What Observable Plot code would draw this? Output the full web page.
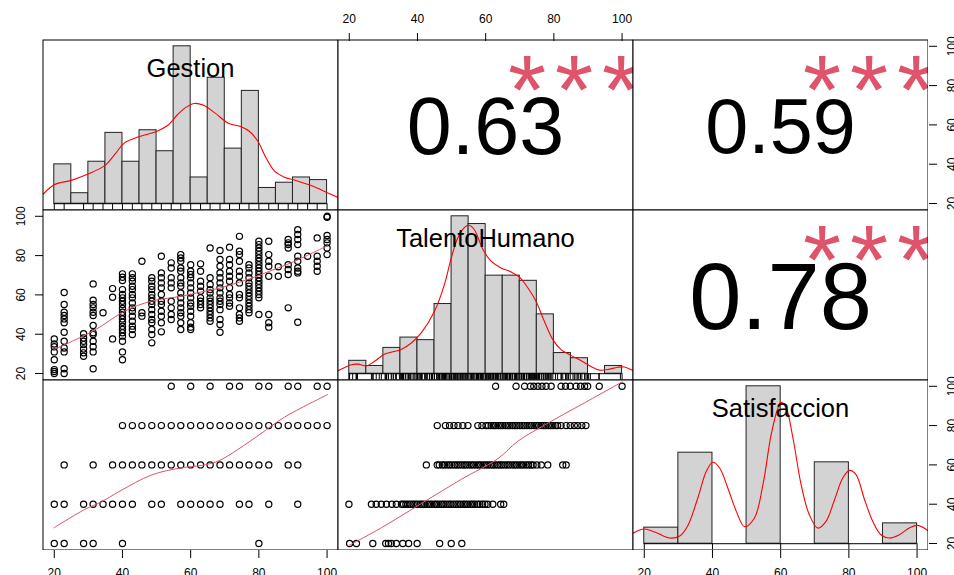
<!DOCTYPE html>
<html>
<head>
<meta charset="utf-8">
<script src="https://cdn.jsdelivr.net/npm/d3@7"></script>
<script src="https://cdn.jsdelivr.net/npm/@observablehq/plot@0.6"></script>
<style>
  body { margin: 0; background: #fff; }
  #chart { position: relative; width: 954px; height: 575px; overflow: hidden; background: #fff; }
  #chart svg { position: absolute; }
</style>
</head>
<body>
<div id="chart"></div>
<script>
// ---------------------------------------------------------------
// Correlation matrix of three survey scores (each scaled 20–100)
// ---------------------------------------------------------------
const varNames = ["Gestion", "TalentoHumano", "Satisfaccion"];
const tickValues = [20, 40, 60, 80, 100];

// upper triangle: Pearson r and significance stars
const corrCells = [[0, 1], [0, 2], [1, 2]];
const corrValues = [0.63, 0.59, 0.78];
const corrSignif = ["***", "***", "***"];

// histograms (counts per bin)
const gestionBreaks = [20, 25, 30, 35, 40, 45, 50, 55, 60, 65, 70, 75, 80, 85, 90, 95, 100];
const gestionCounts = [15, 4, 16, 27, 16, 28, 20, 60, 10, 48, 21, 43, 6, 8, 10, 9];
const talentoBreaks = [20, 25, 30, 35, 40, 45, 50, 55, 60, 65, 70, 75, 80, 85, 90, 95, 100];
const talentoCounts = [5, 3, 10, 14, 13, 27, 61, 58, 38, 38, 36, 23, 8, 6, 0, 3];
const satisfBreaks = [20, 30, 40, 50, 60, 70, 80, 90, 100];
const satisfCounts = [15, 85, 0, 147, 0, 76, 0, 19];

// kernel density curves, in the same units as the bin counts
const gestionDensity = [[16.8,3.7],[20.1,7.3],[25.0,8.9],[29.9,11.3],[34.8,14.5],[37.7,18.7],[40.6,23.2],[44.5,25.4],[50.1,27.6],[53.3,29.9],[56.2,34.0],[58.7,36.8],[61.1,38.2],[63.6,37.6],[67.0,34.7],[70.9,30.8],[74.8,29.3],[77.2,27.6],[79.7,23.8],[82.1,17.5],[84.6,12.4],[87.5,10.1],[90.4,9.0],[95.3,6.9],[100.2,4.1],[103.2,2.4]];
const talentoDensity = [[16.8,1.2],[20.6,3.5],[22.6,3.7],[25.0,3.0],[27.4,4.8],[30.4,7.6],[35.1,9.3],[38.2,11.9],[41.1,15.8],[45.0,24.2],[47.9,34.5],[49.9,44.8],[51.8,52.6],[53.8,56.7],[55.1,57.5],[56.7,55.8],[59.2,48.1],[61.6,43.6],[64.5,41.0],[67.5,39.4],[69.9,37.4],[72.4,33.2],[74.8,28.0],[77.2,20.3],[79.7,13.2],[82.1,9.3],[85.0,7.1],[88.0,5.0],[90.9,2.8],[93.3,1.4],[95.8,1.6],[98.7,2.5],[100.7,2.6],[103.2,1.2]];
const satisfDensity = [[16.8,10.0],[20.0,13.7],[23.1,10.9],[27.4,5.3],[30.4,7.2],[32.8,17.1],[35.7,42.7],[38.2,67.6],[40.1,76.0],[42.1,70.7],[44.5,52.0],[47.0,30.2],[49.4,15.9],[52.3,24.0],[54.8,55.1],[57.2,101.8],[59.2,126.8],[60.1,132.0],[61.6,126.8],[63.6,98.7],[66.0,55.1],[68.4,27.1],[70.9,14.6],[73.3,20.9],[75.8,41.1],[78.2,61.4],[80.2,68.5],[82.1,64.5],[84.6,41.1],[87.0,20.9],[89.4,8.4],[91.9,5.3],[94.8,8.4],[97.7,14.6],[100.2,17.1],[103.2,12.1]];

// observed score levels of Gestion and Satisfaccion
const gestionLevels = [20, 22.9, 28.6, 31.4, 34.3, 37.1, 40, 42.9, 45.7, 48.6, 51.4, 54.3, 57.1, 60, 62.9, 65.7, 68.6, 71.4, 74.3, 77.1, 80, 82.9, 85.7, 88.6, 91.4, 94.3, 97.1, 100];
const satisfLevels = [20, 40, 60, 80, 100];

// TalentoHumano scores for each Gestion level
const talentoByGestion = [
  [37.6, 35.0, 33.6, 31.0, 27.0, 22.0, 21.0, 20.0],
  [61.2, 55.1, 51.2, 49.5, 47.8, 45.8, 41.0, 36.4, 33.0, 31.0, 22.4, 20.0],
  [40.2, 38.1, 36.4, 34.7, 32.5, 30.5, 28.8],
  [65.6, 57.3, 55.1, 53.4, 51.2, 49.5, 44.4, 40.7, 39.8, 36.4, 33.6, 31.0, 22.4],
  [50.9],
  [63.2, 58.8, 37.6],
  [70.7, 69.0, 67.3, 62.7, 60.2, 58.5, 56.8, 55.1, 53.1, 51.2, 49.5, 47.8, 46.1, 44.1, 42.4, 40.7, 39.0, 36.4, 31.0, 27.0],
  [70.7, 68.7, 67.0, 64.4, 62.7, 60.2, 58.5, 55.9, 53.4, 51.7, 49.2, 46.6, 44.1, 42.4, 39.8],
  [77.1, 50.9, 49.2],
  [68.7, 67.0, 64.4, 62.7, 60.2, 58.5, 56.8, 55.1, 52.5, 50.0, 47.5, 45.8, 42.4, 39.8, 35.6],
  [79.7, 71.2, 68.7, 66.1, 63.6, 60.2, 56.8, 55.1, 51.7, 49.2, 45.8, 41.2],
  [76.3, 73.7, 68.7, 66.1, 63.6, 56.8, 53.4, 50.0, 47.5],
  [80.5, 78.8, 77.1, 73.7, 72.0, 68.7, 66.1, 64.4, 61.0, 58.5, 55.9, 53.4, 50.9, 49.2, 45.8, 42.4],
  [75.4, 72.0, 70.4, 68.7, 66.1, 63.6, 61.0, 58.5, 55.9, 54.2, 51.7, 49.2, 45.8, 43.6, 42.4],
  [75.8, 72.0, 67.0, 64.4, 61.9, 58.5, 56.8, 55.1, 53.4],
  [83.9, 68.7, 65.3, 62.7, 61.0, 58.5, 56.8, 55.1, 53.4, 51.7, 50.0, 48.3, 46.6],
  [82.6, 78.0, 74.6, 71.2, 68.7, 66.1, 63.6, 61.0, 58.5, 56.8, 55.1, 52.5, 47.5, 44.9, 41.0],
  [84.3, 78.0, 75.4, 72.0, 69.5, 67.0, 63.6, 60.2, 58.5, 55.9, 54.2],
  [89.8, 82.2, 80.5, 77.1, 72.0, 69.5, 66.1, 60.2, 58.5, 53.4, 50.0, 48.3, 46.6],
  [75.4, 73.7, 71.2, 68.7, 66.1, 64.4, 62.7, 61.0, 59.3, 57.6, 55.9, 54.2, 52.5, 50.9],
  [87.3, 85.6, 83.9, 82.2, 80.5, 78.8, 77.1, 75.4, 73.7, 72.0, 70.4, 68.7, 67.0, 65.3, 63.6, 61.9, 60.2, 58.5, 50.0],
  [87.3, 80.5, 77.1, 74.6, 69.5, 50.0, 45.8, 43.6],
  [74.3, 69.5],
  [88.2, 86.5, 85.6, 83.9, 75.4, 72.9, 70.4, 53.4],
  [93.2, 90.7, 88.2, 85.6, 79.7, 77.1, 73.7, 72.0, 71.2, 46.1],
  [79.7],
  [89.0, 79.7, 77.1, 74.6, 72.0],
  [100.0, 99.5, 90.2, 88.2, 86.5, 83.9, 80.5]
];

// Gestion scores observed at each Satisfaccion level
const gestionBySatisf = [
  [20, 22.9, 28.6, 31.4, 40, 80],
  [20, 22.9, 28.6, 31.4, 34.3, 37.1, 40, 42.9, 48.6, 51.4, 57.1, 60, 62.9, 65.7, 68.6, 74.3, 77.1, 82.9, 91.4],
  [22.9, 31.4, 37.1, 40, 42.9, 45.7, 48.6, 51.4, 54.3, 57.1, 60, 62.9, 65.7, 68.6, 71.4, 74.3, 77.1, 80, 82.9, 88.6, 91.4],
  [40, 42.9, 45.7, 48.6, 51.4, 54.3, 57.1, 60, 62.9, 65.7, 68.6, 71.4, 74.3, 77.1, 80, 82.9, 85.7, 88.6, 91.4, 94.3, 97.1, 100],
  [54.3, 60, 65.7, 71.4, 74.3, 80, 82.9, 88.6, 91.4, 97.1, 100]
];

// TalentoHumano scores observed at each Satisfaccion level
const talentoBySatisf = [
  [20.1, 22.1, 26.9, 30.7, 31.5, 32.3, 33.8, 35.7, 37.4, 39.9, 46.5, 49.9, 53.0],
  [19.9, 26.5, 27.9, 29.4, 30.9, 32.5, 33.8, 35.3, 35.9, 36.6, 37.2, 37.9, 38.7, 39.3, 40.0, 40.8, 41.4, 42.1, 42.9, 43.5, 44.2, 45.0, 45.6, 46.3, 47.1, 47.7, 48.4, 49.2, 49.8, 50.5, 51.3, 51.9, 52.6, 53.4, 54.0, 54.7, 55.5, 56.1, 56.8, 57.6, 58.3, 59.1, 59.8, 60.6, 62.1, 64.4, 65.3],
  [42.6, 45.8, 46.4, 47.3, 47.9, 48.7, 49.4, 50.1, 50.9, 51.6, 52.2, 53.0, 53.7, 54.3, 55.1, 55.8, 56.4, 57.2, 57.9, 58.5, 59.3, 60.0, 60.6, 61.4, 62.1, 62.7, 63.5, 64.2, 64.8, 65.6, 66.3, 66.9, 67.7, 68.4, 69.0, 69.8, 70.5, 71.1, 71.9, 72.6, 73.3, 73.9, 75.0, 76.3, 78.2, 82.6, 83.6],
  [45.8, 48.2, 49.4, 50.7, 51.9, 53.3, 54.8, 57.7, 58.9, 60.1, 60.8, 61.6, 62.3, 62.9, 63.7, 64.4, 65.0, 65.8, 66.5, 67.1, 67.9, 68.6, 69.2, 70.0, 70.7, 71.3, 72.1, 72.8, 73.4, 74.2, 74.9, 75.5, 76.3, 77.0, 77.6, 78.4, 79.1, 79.7, 80.5, 81.1, 82.1, 83.6, 84.8, 86.0, 87.0, 88.2, 89.4],
  [62.9, 68.9, 71.4, 73.1, 74.1, 75.3, 76.5, 77.7, 79.2, 82.1, 83.4, 84.8, 86.5, 87.8, 89.0, 89.9, 93.3, 100]
];

// local regression (lowess) fits for the lower panels
const smoothGT = [[19.9,32.2],[31.8,42.0],[40.6,51.7],[48.4,56.8],[57.2,59.3],[63.1,61.5],[68.9,63.6],[74.3,66.5],[78.7,69.0],[82.6,71.7],[89.4,76.3],[100.2,85.1]];
const smoothGS = [[19.9,28.0],[28.9,37.3],[33.8,41.2],[39.6,47.0],[48.4,54.8],[57.2,58.5],[63.1,59.7],[68.0,61.9],[73.8,67.8],[80.6,75.9],[87.5,84.3],[100.2,95.8]];
const smoothTS = [[20.1,19.2],[29.4,28.0],[41.1,40.3],[52.8,52.6],[63.6,63.2],[69.4,72.0],[77.2,80.2],[88.9,91.5],[100.0,102.2]];

// ---------------------------------------------------------------
// layout
// ---------------------------------------------------------------
const W = 295, H = 170;
const colLeft = [42, 337, 632];
const rowTop = [39, 209, 379];
const FONT = "'Liberation Sans', Arial, Helvetica, sans-serif";
const RED2 = "#DF536B";
const CEX = 113;              // base size of the correlation text
const STAR_SIZE = 98;         // glyph size of the significance stars
const STAR_PITCH = 47;        // spacing between consecutive stars
const chart = document.getElementById("chart");

const allValues = [...gestionLevels, ...satisfLevels, ...talentoBySatisf.flat(), ...talentoByGestion.flat()];
const [vmin, vmax] = d3.extent(allValues);
const valueDomain = [vmin - 0.04 * (vmax - vmin), vmax + 0.04 * (vmax - vmin)];

function place(svg, left, top) {
  svg.style.position = "absolute";
  svg.style.left = left + "px";
  svg.style.top = top + "px";
  chart.appendChild(svg);
}

const panelStyle = `background:none;overflow:hidden;font-family:${FONT};font-size:12px;color:black;`;

function panel(row, col, xDomain, yDomain, marks) {
  const svg = Plot.plot({
    width: W + 1, height: H + 1, margin: 0,
    style: panelStyle,
    x: {domain: xDomain, range: [0.5, W + 0.5], axis: null},
    y: {domain: yDomain, range: [H + 0.5, 0.5], axis: null},
    marks: [...marks, Plot.frame({stroke: "black", strokeWidth: 1, inset: 0.5})]
  });
  place(svg, colLeft[col], rowTop[row]);
}

// diagonal: histogram + density + rug + variable name
function histPanel(i, breaks, counts, density, rug) {
  const bins = counts.map((c, k) => ({x1: breaks[k], x2: breaks[k + 1], c}));
  const max = d3.max(counts);
  const yDom = [-0.04 * max, 1.04 * max];
  panel(i, i, valueDomain, yDom, [
    Plot.rect(bins.filter(b => b.c > 0), {x1: "x1", x2: "x2", y1: 0, y2: "c", fill: "#D3D3D3", stroke: "#222", strokeWidth: 1}),
    Plot.ruleY([0], {x1: breaks[0], x2: breaks[breaks.length - 1], stroke: "black", strokeWidth: 1}),
    Plot.ruleX(rug, {x: d => d, y1: yDom[0], y2: 0, stroke: "black", strokeWidth: 1}),
    Plot.line(density, {x: d => d[0], y: d => d[1], stroke: "red", strokeWidth: 1.1, curve: "catmull-rom"}),
    Plot.text([varNames[i]], {text: d => d, frameAnchor: "top", dy: 37, lineAnchor: "bottom", fontSize: 25.5, fill: "black"})
  ]);
}

// lower triangle: scatter + smooth
function scatterPanel(row, col, points, smooth) {
  panel(row, col, valueDomain, valueDomain, [
    Plot.dot(points, {x: "x", y: "y", r: 3.1, stroke: "black", strokeWidth: 1.2, fill: "none"}),
    Plot.line(smooth, {x: d => d[0], y: d => d[1], stroke: RED2, strokeWidth: 1, curve: "catmull-rom"})
  ]);
}

// upper triangle: correlation coefficient + stars
function corPanel(row, col, r, stars) {
  const fs = CEX * (Math.abs(r) + 0.3) / 1.3;
  const chars = Array.from(stars);
  panel(row, col, [0, 1], [0, 1], [
    Plot.text([r.toFixed(2)], {text: d => d, x: 0.5, y: 0.5, fontSize: fs, lineAnchor: "middle", dy: 0.04 * fs, fill: "black"}),
    ...chars.map((ch, k) => Plot.text([ch], {
      text: d => d, x: 0.8, y: 0.8, fontSize: STAR_SIZE, lineAnchor: "middle",
      dx: (k - (chars.length - 1) / 2) * STAR_PITCH, dy: 0.19 * STAR_SIZE, fill: RED2
    }))
  ]);
}

// rugs from the observed scores
const gestionRug = gestionLevels;
const talentoRug = Array.from(new Set([...talentoBySatisf.flat(), ...talentoByGestion.flat()])).sort((a, b) => a - b);
const satisfRug = satisfLevels;

histPanel(0, gestionBreaks, gestionCounts, gestionDensity, gestionRug);
histPanel(1, talentoBreaks, talentoCounts, talentoDensity, talentoRug);
histPanel(2, satisfBreaks, satisfCounts, satisfDensity, satisfRug);

const ptsGT = gestionLevels.flatMap((g, k) => talentoByGestion[k].map(t => ({x: g, y: t})));
const ptsGS = satisfLevels.flatMap((s, k) => gestionBySatisf[k].map(g => ({x: g, y: s})));
const ptsTS = satisfLevels.flatMap((s, k) => talentoBySatisf[k].map(t => ({x: t, y: s})));
scatterPanel(1, 0, ptsGT, smoothGT);
scatterPanel(2, 0, ptsGS, smoothGS);
scatterPanel(2, 1, ptsTS, smoothTS);

corrCells.forEach(([r, c], k) => corPanel(r, c, corrValues[k], corrSignif[k]));

// ---------------------------------------------------------------
// outer axes (alternating sides, as in a pairs plot)
// ---------------------------------------------------------------
const axisStyle = `background:none;overflow:visible;font-family:${FONT};font-size:12px;color:black;`;

function xAxis(col, side) {
  const bottom = side === "bottom";
  const svg = Plot.plot({
    width: W + 1, height: 31,
    marginLeft: 0, marginRight: 0,
    marginTop: bottom ? 1 : 30, marginBottom: bottom ? 30 : 1,
    style: axisStyle,
    x: {domain: valueDomain, range: [0.5, W + 0.5]},
    marks: [Plot.axisX(tickValues, {anchor: side, tickSize: 8, tickPadding: bottom ? 9.7 : 9.3, fontSize: 12})]
  });
  place(svg, colLeft[col], bottom ? rowTop[2] + H + 0.5 - 1 : rowTop[0] + 0.5 - 30);
}

function yAxis(row, side) {
  const left = side === "left";
  const svg = Plot.plot({
    width: 43, height: H + 1 + 30,
    marginTop: 15, marginBottom: 15,
    marginLeft: left ? 42 : 1, marginRight: left ? 1 : 42,
    style: axisStyle,
    y: {domain: valueDomain, range: [15 + H + 0.5, 15 + 0.5]},
    marks: [Plot.axisY(tickValues, {
      anchor: side, tickSize: 8, tickRotate: -90, textAnchor: "middle",
      lineAnchor: left ? "bottom" : "top", tickPadding: 10.6, fontSize: 12
    })]
  });
  place(svg, left ? 0.5 : colLeft[2] + W + 0.5 - 1, rowTop[row] - 15);
}

xAxis(0, "bottom");
xAxis(2, "bottom");
xAxis(1, "top");
yAxis(1, "left");
yAxis(0, "right");
yAxis(2, "right");
</script>
</body>
</html>
